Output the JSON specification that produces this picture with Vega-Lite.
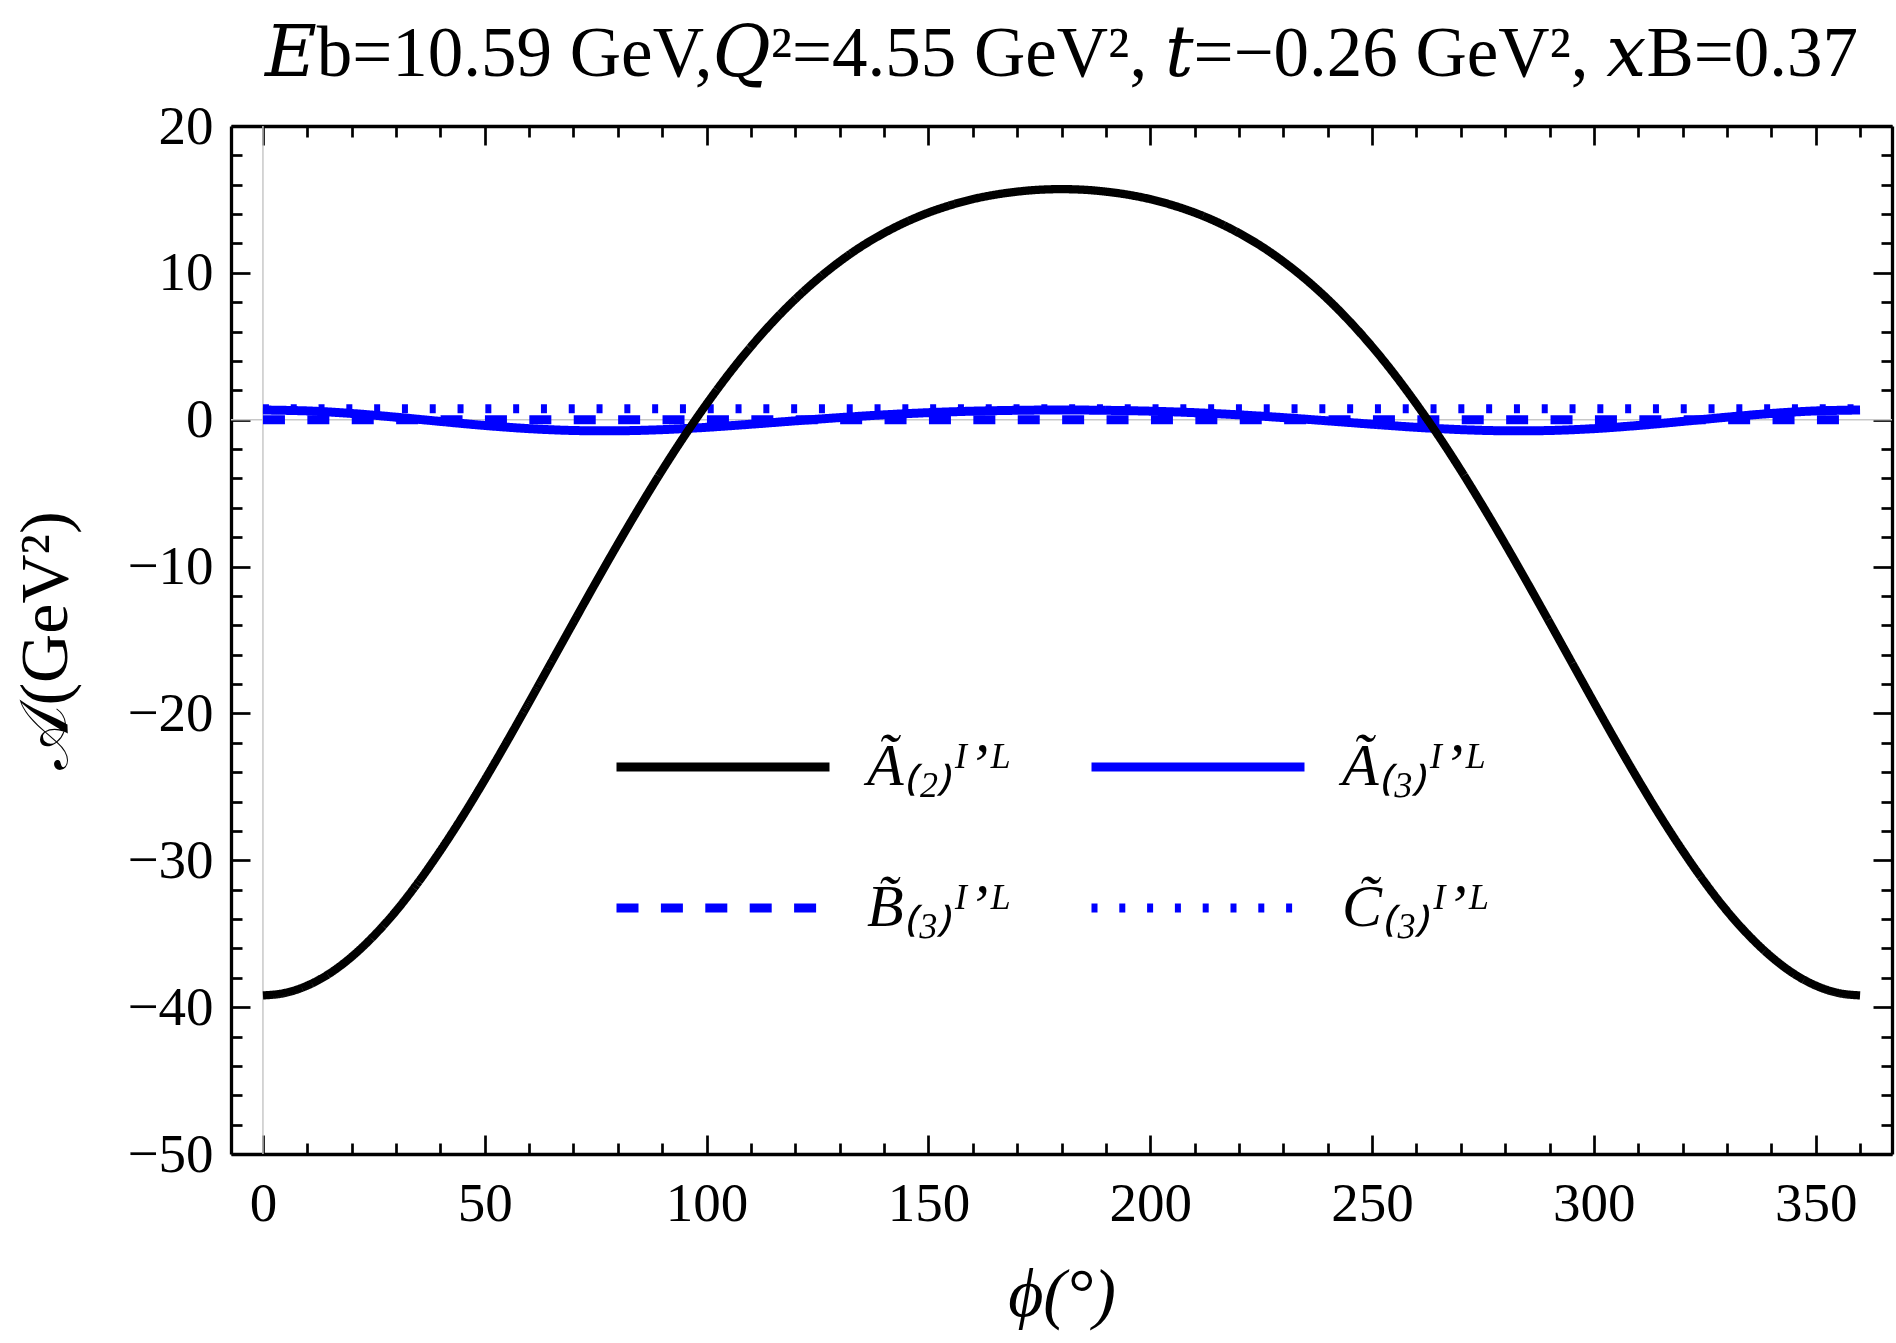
{
  "$schema": "https://vega.github.io/schema/vega-lite/v6.json",
  "width": 1661,
  "height": 1028,
  "autosize": {"type": "none"},
  "padding": {"left": 231, "top": 126, "right": 4, "bottom": 189},
  "background": "white",
  "title": {
    "text": "𝐸b=10.59 GeV,𝑄²=4.55 GeV², 𝑡=−0.26 GeV², 𝑥B=0.37",
    "font": "Liberation Serif, DejaVu Serif",
    "fontSize": 71,
    "fontWeight": "normal",
    "color": "black",
    "anchor": "middle",
    "frame": "group",
    "offset": 8
  },
  "config": {
    "view": {"stroke": null},
    "axis": {"grid": false, "domainColor": "black", "domainWidth": 3.3, "tickColor": "black", "tickWidth": 2.7,
             "labelFont": "Liberation Serif", "labelFontSize": 55, "labelColor": "black",
             "titleFont": "Liberation Serif, DejaVu Serif", "titleFontWeight": "normal", "titleColor": "black"}
  },
  "datasets": {
    "curves": [
      {"phi": 0, "s": "A2", "v": -39.2}, {"phi": 5, "s": "A2", "v": -39.03}, {"phi": 10, "s": "A2", "v": -38.53},
      {"phi": 15, "s": "A2", "v": -37.71}, {"phi": 20, "s": "A2", "v": -36.57}, {"phi": 25, "s": "A2", "v": -35.14},
      {"phi": 30, "s": "A2", "v": -33.45}, {"phi": 35, "s": "A2", "v": -31.5}, {"phi": 40, "s": "A2", "v": -29.34},
      {"phi": 45, "s": "A2", "v": -27.01}, {"phi": 50, "s": "A2", "v": -24.52}, {"phi": 55, "s": "A2", "v": -21.92},
      {"phi": 60, "s": "A2", "v": -19.24}, {"phi": 65, "s": "A2", "v": -16.52}, {"phi": 70, "s": "A2", "v": -13.8},
      {"phi": 75, "s": "A2", "v": -11.1}, {"phi": 80, "s": "A2", "v": -8.46}, {"phi": 85, "s": "A2", "v": -5.9},
      {"phi": 90, "s": "A2", "v": -3.44}, {"phi": 95, "s": "A2", "v": -1.11}, {"phi": 100, "s": "A2", "v": 1.07},
      {"phi": 105, "s": "A2", "v": 3.11}, {"phi": 110, "s": "A2", "v": 4.98}, {"phi": 115, "s": "A2", "v": 6.68},
      {"phi": 120, "s": "A2", "v": 8.21}, {"phi": 125, "s": "A2", "v": 9.57}, {"phi": 130, "s": "A2", "v": 10.77},
      {"phi": 135, "s": "A2", "v": 11.82}, {"phi": 140, "s": "A2", "v": 12.71}, {"phi": 145, "s": "A2", "v": 13.47},
      {"phi": 150, "s": "A2", "v": 14.1}, {"phi": 155, "s": "A2", "v": 14.61}, {"phi": 160, "s": "A2", "v": 15.02},
      {"phi": 165, "s": "A2", "v": 15.32}, {"phi": 170, "s": "A2", "v": 15.53}, {"phi": 175, "s": "A2", "v": 15.66},
      {"phi": 180, "s": "A2", "v": 15.7}, {"phi": 185, "s": "A2", "v": 15.66}, {"phi": 190, "s": "A2", "v": 15.53},
      {"phi": 195, "s": "A2", "v": 15.32}, {"phi": 200, "s": "A2", "v": 15.02}, {"phi": 205, "s": "A2", "v": 14.61},
      {"phi": 210, "s": "A2", "v": 14.1}, {"phi": 215, "s": "A2", "v": 13.47}, {"phi": 220, "s": "A2", "v": 12.71},
      {"phi": 225, "s": "A2", "v": 11.82}, {"phi": 230, "s": "A2", "v": 10.77}, {"phi": 235, "s": "A2", "v": 9.57},
      {"phi": 240, "s": "A2", "v": 8.21}, {"phi": 245, "s": "A2", "v": 6.68}, {"phi": 250, "s": "A2", "v": 4.98},
      {"phi": 255, "s": "A2", "v": 3.11}, {"phi": 260, "s": "A2", "v": 1.07}, {"phi": 265, "s": "A2", "v": -1.11},
      {"phi": 270, "s": "A2", "v": -3.44}, {"phi": 275, "s": "A2", "v": -5.9}, {"phi": 280, "s": "A2", "v": -8.46},
      {"phi": 285, "s": "A2", "v": -11.1}, {"phi": 290, "s": "A2", "v": -13.8}, {"phi": 295, "s": "A2", "v": -16.52},
      {"phi": 300, "s": "A2", "v": -19.24}, {"phi": 305, "s": "A2", "v": -21.92}, {"phi": 310, "s": "A2", "v": -24.52},
      {"phi": 315, "s": "A2", "v": -27.01}, {"phi": 320, "s": "A2", "v": -29.34}, {"phi": 325, "s": "A2", "v": -31.5},
      {"phi": 330, "s": "A2", "v": -33.45}, {"phi": 335, "s": "A2", "v": -35.14}, {"phi": 340, "s": "A2", "v": -36.57},
      {"phi": 345, "s": "A2", "v": -37.71}, {"phi": 350, "s": "A2", "v": -38.53}, {"phi": 355, "s": "A2", "v": -39.03},
      {"phi": 360, "s": "A2", "v": -39.2},
      {"phi": 0, "s": "A3", "v": 0.66}, {"phi": 10, "s": "A3", "v": 0.599}, {"phi": 20, "s": "A3", "v": 0.426},
      {"phi": 30, "s": "A3", "v": 0.173}, {"phi": 40, "s": "A3", "v": -0.116}, {"phi": 50, "s": "A3", "v": -0.391},
      {"phi": 60, "s": "A3", "v": -0.608}, {"phi": 70, "s": "A3", "v": -0.734}, {"phi": 80, "s": "A3", "v": -0.755},
      {"phi": 90, "s": "A3", "v": -0.676}, {"phi": 100, "s": "A3", "v": -0.517}, {"phi": 110, "s": "A3", "v": -0.306},
      {"phi": 120, "s": "A3", "v": -0.077}, {"phi": 130, "s": "A3", "v": 0.143}, {"phi": 140, "s": "A3", "v": 0.332},
      {"phi": 150, "s": "A3", "v": 0.48}, {"phi": 160, "s": "A3", "v": 0.582}, {"phi": 170, "s": "A3", "v": 0.641},
      {"phi": 180, "s": "A3", "v": 0.66}, {"phi": 190, "s": "A3", "v": 0.641}, {"phi": 200, "s": "A3", "v": 0.582},
      {"phi": 210, "s": "A3", "v": 0.48}, {"phi": 220, "s": "A3", "v": 0.332}, {"phi": 230, "s": "A3", "v": 0.143},
      {"phi": 240, "s": "A3", "v": -0.077}, {"phi": 250, "s": "A3", "v": -0.306}, {"phi": 260, "s": "A3", "v": -0.517},
      {"phi": 270, "s": "A3", "v": -0.676}, {"phi": 280, "s": "A3", "v": -0.755}, {"phi": 290, "s": "A3", "v": -0.734},
      {"phi": 300, "s": "A3", "v": -0.608}, {"phi": 310, "s": "A3", "v": -0.391}, {"phi": 320, "s": "A3", "v": -0.116},
      {"phi": 330, "s": "A3", "v": 0.173}, {"phi": 340, "s": "A3", "v": 0.426}, {"phi": 350, "s": "A3", "v": 0.599},
      {"phi": 360, "s": "A3", "v": 0.66},
      {"phi": 0, "s": "B3", "v": 0.0}, {"phi": 360, "s": "B3", "v": 0.0},
      {"phi": 0, "s": "C3", "v": 0.75}, {"phi": 360, "s": "C3", "v": 0.75}
    ]
  },
  "layer": [
    {
      "data": {"values": [{"phi0": 0}]},
      "mark": {"type": "rule", "color": "#c8c8c8", "strokeWidth": 1.5},
      "encoding": {
        "x": {"field": "phi0", "type": "quantitative",
              "scale": {"domain": [-7.2, 367.2], "nice": false, "zero": false},
              "axis": {"orient": "top", "title": null, "labels": false,
                       "values": [0, 10, 20, 30, 40, 50, 60, 70, 80, 90, 100, 110, 120, 130, 140, 150, 160, 170, 180, 190, 200, 210, 220, 230, 240, 250, 260, 270, 280, 290, 300, 310, 320, 330, 340, 350, 360],
                       "tickSize": {"condition": {"test": "datum.value % 50 === 0", "value": -19}, "value": -11}}}
      }
    },
    {
      "data": {"values": [{"v0": 0}]},
      "mark": {"type": "rule", "color": "#c8c8c8", "strokeWidth": 1.5},
      "encoding": {
        "y": {"field": "v0", "type": "quantitative",
              "scale": {"domain": [-50, 20], "nice": false, "zero": false},
              "axis": {"orient": "right", "title": null, "labels": false,
                       "values": [-50, -48, -46, -44, -42, -40, -38, -36, -34, -32, -30, -28, -26, -24, -22, -20, -18, -16, -14, -12, -10, -8, -6, -4, -2, 0, 2, 4, 6, 8, 10, 12, 14, 16, 18, 20],
                       "tickSize": {"condition": {"test": "datum.value % 10 === 0", "value": -19}, "value": -11}}}
      }
    },
    {
      "data": {"name": "curves"},
      "transform": [{"filter": "datum.s !== 'A2'"}],
      "mark": {"type": "line", "strokeWidth": 9, "strokeCap": "butt", "interpolate": "catmull-rom"},
      "encoding": {
        "x": {"field": "phi", "type": "quantitative",
              "scale": {"domain": [-7.2, 367.2], "nice": false, "zero": false},
              "axis": {"orient": "bottom", "title": "ϕ(°)", "titleFontSize": 68, "titleFontStyle": "italic", "titlePadding": 30,
                       "values": [0, 10, 20, 30, 40, 50, 60, 70, 80, 90, 100, 110, 120, 130, 140, 150, 160, 170, 180, 190, 200, 210, 220, 230, 240, 250, 260, 270, 280, 290, 300, 310, 320, 330, 340, 350, 360],
                       "labelExpr": "datum.value % 50 === 0 ? datum.label : ''",
                       "labelPadding": 42, "labelFlush": false,
                       "tickSize": {"condition": {"test": "datum.value % 50 === 0", "value": -19}, "value": -11}}},
        "y": {"field": "v", "type": "quantitative",
              "scale": {"domain": [-50, 20], "nice": false, "zero": false},
              "axis": {"orient": "left", "title": "𝒜(GeV²)", "titleFontSize": 68, "titlePadding": 46,
                       "values": [-50, -48, -46, -44, -42, -40, -38, -36, -34, -32, -30, -28, -26, -24, -22, -20, -18, -16, -14, -12, -10, -8, -6, -4, -2, 0, 2, 4, 6, 8, 10, 12, 14, 16, 18, 20],
                       "labelExpr": "datum.value % 10 === 0 ? datum.label : ''",
                       "labelPadding": 37, "labelFlush": false,
                       "tickSize": {"condition": {"test": "datum.value % 10 === 0", "value": -19}, "value": -11}}},
        "color": {"field": "s", "type": "nominal",
                  "scale": {"domain": ["A2", "A3", "B3", "C3"], "range": ["#000000", "#0000ff", "#0000ff", "#0000ff"]},
                  "legend": {"orient": "none", "legendX": 381, "legendY": 530, "columns": 2, "direction": "horizontal", "title": null,
                             "padding": 0, "symbolType": "stroke", "symbolSize": 45369, "symbolStrokeWidth": 9,
                             "labelOffset": 33, "labelFont": "Liberation Serif", "labelFontSize": 60, "labelFontStyle": "italic",
                             "labelColor": "black", "columnPadding": 60, "rowPadding": -65, "labelLimit": 400,
                             "labelExpr": "{'A2': 'Ã₍₂₎ᴵʼᴸ', 'A3': 'Ã₍₃₎ᴵʼᴸ', 'B3': 'B̃₍₃₎ᴵʼᴸ', 'C3': 'C̃₍₃₎ᴵʼᴸ'}[datum.label]"}},
        "strokeDash": {"field": "s", "type": "nominal",
                       "scale": {"domain": ["A2", "A3", "B3", "C3"], "range": [[1, 0], [1, 0], [22, 22.4], [6, 21.8]]}}
      }
    },
    {
      "data": {"name": "curves"},
      "transform": [{"filter": "datum.s === 'A2'"}],
      "mark": {"type": "line", "strokeWidth": 8.3, "strokeCap": "butt", "interpolate": "monotone"},
      "encoding": {
        "x": {"field": "phi", "type": "quantitative", "scale": {"domain": [-7.2, 367.2], "nice": false, "zero": false}, "axis": null},
        "y": {"field": "v", "type": "quantitative", "scale": {"domain": [-50, 20], "nice": false, "zero": false}, "axis": null},
        "color": {"field": "s", "type": "nominal"},
        "strokeDash": {"field": "s", "type": "nominal"}
      }
    }
  ],
  "resolve": {"axis": {"x": "independent", "y": "independent"}}
}
